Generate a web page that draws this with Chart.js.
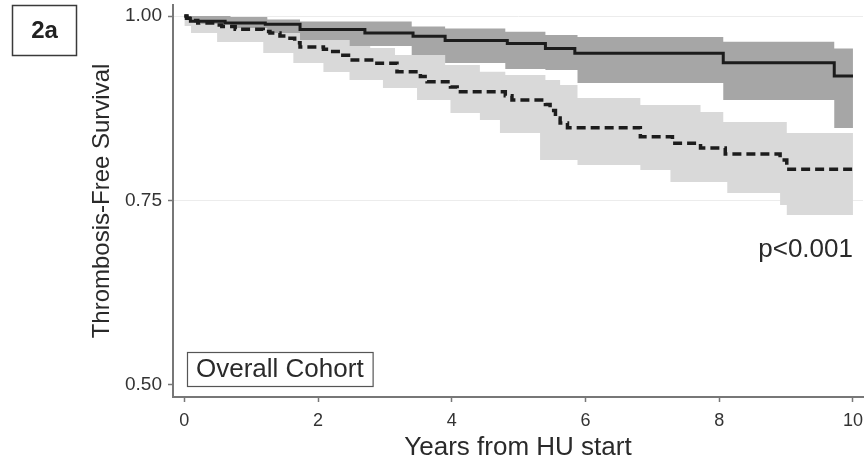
<!DOCTYPE html>
<html>
<head>
<meta charset="utf-8">
<title>Thrombosis-Free Survival</title>
<script src="https://cdn.jsdelivr.net/npm/chart.js@4.4.1/dist/chart.umd.min.js"></script>
<style>
    html, body { margin: 0; padding: 0; background: #ffffff; }
    #wrap { position: relative; width: 867px; height: 463px; }
</style>
</head>
<body>
<div id="wrap"><canvas id="kmChart"></canvas></div>
<script>
// Kaplan-Meier estimates (years from HU start, survival)
const solidTimes = [0, 0.03, 0.09, 0.61, 1.21, 1.73, 2.70, 3.42, 3.90, 4.83, 5.40, 5.84, 8.06, 9.72, 10.0];
const solidSurv = [1.000, 0.997, 0.993, 0.9905, 0.9888, 0.9817, 0.977, 0.9725, 0.967, 0.9627, 0.956, 0.9495, 0.9367, 0.9187, 0.9187];

const dashedTimes = [0, 0.04, 0.11, 0.20, 0.46, 0.56, 0.76, 1.18, 1.28, 1.43, 1.55, 1.65, 1.73, 2.08, 2.18, 2.37, 2.51, 2.85, 3.18, 3.53, 3.63, 3.98, 4.08, 4.80, 4.90, 5.40, 5.47, 5.55, 5.62, 5.73, 6.82, 7.30, 7.72, 8.09, 8.91, 9.01, 10.0];
const dashedSurv = [1.000, 0.997, 0.994, 0.9905, 0.988, 0.986, 0.982, 0.979, 0.977, 0.973, 0.970, 0.964, 0.958, 0.955, 0.952, 0.947, 0.9404, 0.936, 0.9245, 0.918, 0.911, 0.904, 0.8974, 0.892, 0.8862, 0.880, 0.872, 0.862, 0.855, 0.8486, 0.8364, 0.8275, 0.8211, 0.813, 0.805, 0.7923, 0.7923];

// 95% confidence bands
const solidBandTimes = [0, 0.25, 0.69, 1.24, 1.73, 2.47, 3.40, 3.90, 4.80, 5.40, 5.88, 8.06, 9.72, 10.0];
const solidBandUpper = [1.000, 1.000, 0.9986, 0.9953, 0.9928, 0.9928, 0.986, 0.9833, 0.9787, 0.9743, 0.9715, 0.9652, 0.9562, 0.9562];
const solidBandLower = [0.9946, 0.9892, 0.9837, 0.977, 0.9675, 0.9593, 0.9472, 0.9363, 0.9282, 0.9268, 0.9092, 0.8862, 0.8482, 0.8482];

const dashedBandTimes = [0, 0.1, 0.25, 0.49, 1.18, 1.24, 1.63, 1.73, 2.08, 2.47, 2.78, 2.97, 3.15, 3.48, 3.90, 3.98, 4.42, 4.72, 4.80, 5.32, 5.40, 5.62, 5.88, 6.82, 7.27, 7.72, 8.06, 8.12, 8.91, 9.01, 10.0];
const dashedBandUpper = [1.0, 1.0, 0.9973, 0.9973, 0.9973, 0.9892, 0.9892, 0.9783, 0.9783, 0.9593, 0.9566, 0.9566, 0.9472, 0.9472, 0.9336, 0.9336, 0.9245, 0.9245, 0.920, 0.920, 0.9133, 0.9065, 0.8889, 0.8794, 0.8794, 0.8699, 0.8564, 0.8564, 0.8564, 0.8415, 0.8415];
const dashedBandLower = [0.9864, 0.977, 0.977, 0.9648, 0.9499, 0.9499, 0.9363, 0.9363, 0.9241, 0.9133, 0.9133, 0.9024, 0.9024, 0.8862, 0.8862, 0.8686, 0.8591, 0.8415, 0.8415, 0.8049, 0.8049, 0.8049, 0.7981, 0.7913, 0.7751, 0.7751, 0.7751, 0.7602, 0.7439, 0.7304, 0.7304];

const xTicks = [0, 2, 4, 6, 8, 10];
const yTicks = [0.50, 0.75, 1.00];

const panelLabel = '2a';
const cohortLabel = 'Overall Cohort';
const pValueLabel = 'p<0.001';

const FONT = "'Liberation Sans', Arial, Helvetica, sans-serif";

// KM curves hold their value until the next event time
const STEP = 'before';

document.addEventListener('DOMContentLoaded', () => {
    renderChart();
});

function toPoints(xs, ys) {
    return xs.map((x, i) => ({ x: x, y: ys[i] }));
}

// panel tag, cohort caption and p-value drawn on top of the plot
const annotations = {
    id: 'annotations',
    afterDraw(chart) {
        const { ctx, chartArea, scales } = chart;
        ctx.save();

        ctx.strokeStyle = '#3a3a3a';
        ctx.lineWidth = 1.5;
        ctx.strokeRect(12.5, 5.5, 64, 50);
        ctx.fillStyle = '#222';
        ctx.font = 'bold 24px ' + FONT;
        ctx.textAlign = 'center';
        ctx.textBaseline = 'middle';
        ctx.fillText(panelLabel, 44.5, 31);

        ctx.font = '26px ' + FONT;
        ctx.textAlign = 'left';
        const w = ctx.measureText(cohortLabel).width;
        const bx = chartArea.left + 14;
        const by = chartArea.bottom - 45;
        ctx.fillStyle = '#ffffff';
        ctx.fillRect(bx, by, w + 18, 34);
        ctx.strokeStyle = '#555';
        ctx.lineWidth = 1.2;
        ctx.strokeRect(bx + 0.5, by + 0.5, w + 18, 34);
        ctx.fillStyle = '#2a2a2a';
        ctx.textBaseline = 'middle';
        ctx.fillText(cohortLabel, bx + 9, by + 18);

        ctx.font = '26px ' + FONT;
        ctx.textAlign = 'right';
        ctx.textBaseline = 'alphabetic';
        ctx.fillText(pValueLabel, scales.x.getPixelForValue(10), scales.y.getPixelForValue(0.673));

        ctx.restore();
    }
};

function renderChart() {
    const ctx = document.getElementById('kmChart');

    new Chart(ctx, {
        type: 'line',
        data: {
            datasets: [
                {
                    label: 'Solid',
                    data: toPoints(solidTimes, solidSurv),
                    stepped: STEP,
                    borderColor: '#1c1c1c',
                    borderWidth: 3,
                    pointRadius: 0,
                    fill: false
                },
                {
                    label: 'Dashed',
                    data: toPoints(dashedTimes, dashedSurv),
                    stepped: STEP,
                    borderColor: '#1c1c1c',
                    borderWidth: 3.5,
                    borderDash: [9, 5],
                    pointRadius: 0,
                    fill: false
                },
                {
                    label: 'Solid CI upper',
                    data: toPoints(solidBandTimes, solidBandUpper),
                    stepped: STEP,
                    borderWidth: 0,
                    borderColor: 'rgba(0,0,0,0)',
                    backgroundColor: '#a6a6a6',
                    pointRadius: 0,
                    fill: '+1'
                },
                {
                    label: 'Solid CI lower',
                    data: toPoints(solidBandTimes, solidBandLower),
                    stepped: STEP,
                    borderWidth: 0,
                    borderColor: 'rgba(0,0,0,0)',
                    pointRadius: 0,
                    fill: false
                },
                {
                    label: 'Dashed CI upper',
                    data: toPoints(dashedBandTimes, dashedBandUpper),
                    stepped: STEP,
                    borderWidth: 0,
                    borderColor: 'rgba(0,0,0,0)',
                    backgroundColor: '#d9d9d9',
                    pointRadius: 0,
                    fill: '+1'
                },
                {
                    label: 'Dashed CI lower',
                    data: toPoints(dashedBandTimes, dashedBandLower),
                    stepped: STEP,
                    borderWidth: 0,
                    borderColor: 'rgba(0,0,0,0)',
                    pointRadius: 0,
                    fill: false
                }
            ]
        },
        options: {
            responsive: true,
            maintainAspectRatio: false,
            animation: false,
            layout: {
                padding: { top: 5, right: 4, left: 0, bottom: 0 }
            },
            plugins: {
                legend: { display: false },
                tooltip: { enabled: false }
            },
            scales: {
                x: {
                    type: 'linear',
                    min: -0.17,
                    max: 10.15,
                    afterBuildTicks: (scale) => {
                        scale.ticks = xTicks.map((v) => ({ value: v }));
                    },
                    afterFit: (scale) => {
                        scale.height = 66;
                        scale.paddingLeft = 0;
                        scale.paddingRight = 0;
                    },
                    border: { color: '#777', width: 2 },
                    grid: {
                        drawOnChartArea: false,
                        tickLength: 5,
                        tickColor: '#777',
                        tickWidth: 1.5
                    },
                    ticks: {
                        color: '#333',
                        padding: 8,
                        font: { family: FONT, size: 18 },
                        callback: (v) => String(v)
                    },
                    title: {
                        display: true,
                        text: 'Years from HU start',
                        color: '#2a2a2a',
                        font: { family: FONT, size: 26 },
                        padding: { top: 0, bottom: 0 }
                    }
                },
                y: {
                    type: 'linear',
                    min: 0.4837,
                    max: 1.015,
                    afterBuildTicks: (scale) => {
                        scale.ticks = yTicks.map((v) => ({ value: v }));
                    },
                    afterFit: (scale) => {
                        scale.width = 173;
                        scale.paddingTop = 0;
                        scale.paddingBottom = 0;
                    },
                    border: { color: '#777', width: 2 },
                    grid: {
                        color: (c) => (c.tick && c.tick.value === 0.5 ? 'rgba(0,0,0,0)' : '#ececec'),
                        lineWidth: 1,
                        tickLength: 5,
                        tickColor: '#777',
                        tickWidth: 1.5
                    },
                    ticks: {
                        color: '#333',
                        padding: 6,
                        font: { family: FONT, size: 19 },
                        callback: (v) => Number(v).toFixed(2)
                    },
                    title: {
                        display: true,
                        text: 'Thrombosis-Free Survival',
                        color: '#2a2a2a',
                        font: { family: FONT, size: 24 },
                        padding: { top: 88, bottom: 0 }
                    }
                }
            }
        },
        plugins: [annotations]
    });
}
</script>
</body>
</html>
